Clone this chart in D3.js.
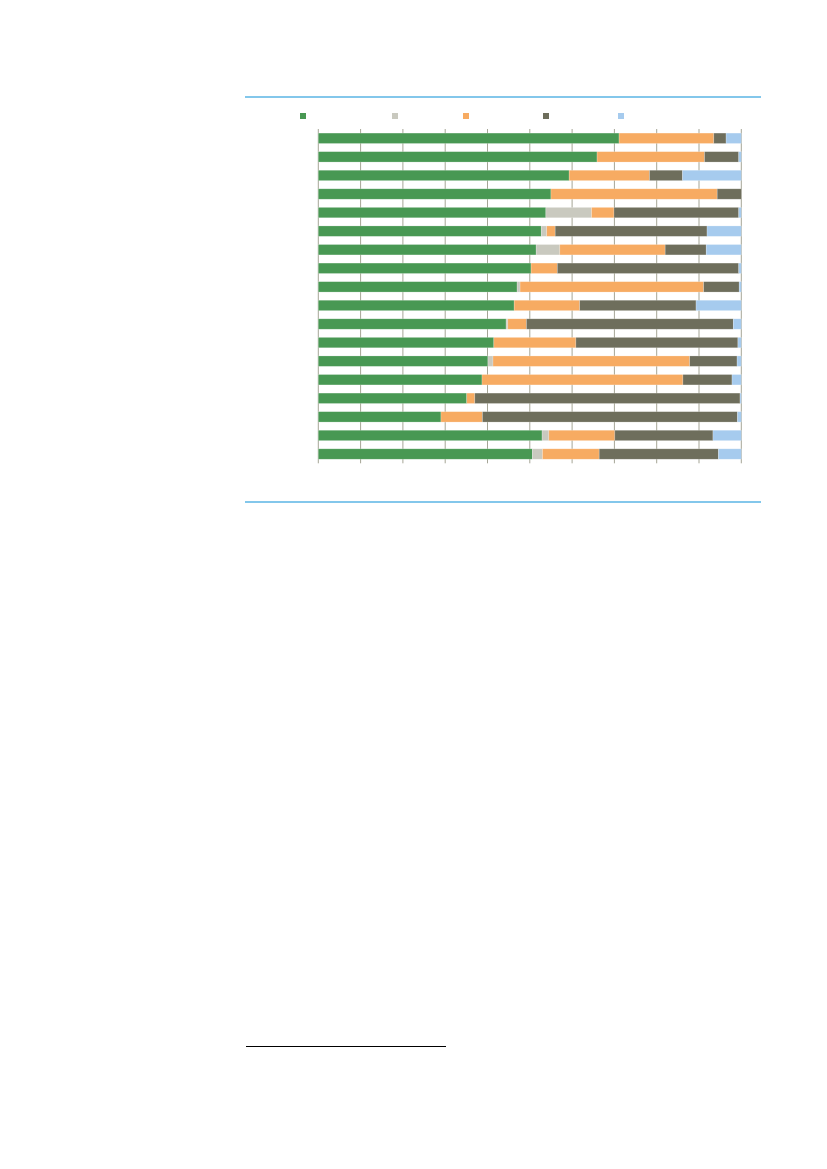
<!DOCTYPE html>
<html>
<head>
<meta charset="utf-8">
<script src="https://cdn.jsdelivr.net/npm/d3@7"></script>
<style>
  html, body { margin: 0; padding: 0; background: #fff; }
  svg { display: block; }
</style>
</head>
<body>
<svg id="chart"></svg>
<script>
// Data: one row per bar, shares in percent
const rows = d3.range(18);
const seriesKeys = ["s1", "s2", "s3", "s4", "s5"];
const s1 = [71.1, 65.9, 59.3, 55.0, 53.8, 52.7, 51.5, 50.3, 47.0, 46.3, 44.4, 41.5, 40.1, 38.7, 35.1, 29.0, 52.9, 50.6];
const s2 = [0, 0, 0, 0, 10.8, 1.3, 5.6, 0, 0.7, 0, 0.4, 0, 1.2, 0, 0, 0, 1.6, 2.4];
const s3 = [22.4, 25.4, 19.0, 39.3, 5.3, 2.0, 24.9, 6.2, 43.4, 15.5, 4.4, 19.4, 46.5, 47.5, 1.9, 9.8, 15.6, 13.4];
const s4 = [2.9, 8.1, 7.8, 5.7, 29.5, 35.9, 9.7, 42.9, 8.4, 27.5, 48.9, 38.3, 11.2, 11.6, 62.7, 60.3, 23.2, 28.2];
const s5 = [3.6, 0.6, 13.9, 0, 0.6, 8.1, 8.3, 0.6, 0.5, 10.7, 1.9, 0.8, 1.0, 2.2, 0.3, 0.9, 6.7, 5.4];
const xTicks = d3.range(0, 101, 10);

const colors = ["#489853", "#c9c9bf", "#f7ab62", "#6e6e5c", "#a6cbee"];

// table for d3.stack
const table = rows.map(i => ({
  row: i, s1: s1[i], s2: s2[i], s3: s3[i], s4: s4[i], s5: s5[i]
}));

// Layout
const W = 827, H = 1169;
const plot = { left: 318.3, right: 741.3, top: 129, bottom: 463.3 };
const legendX = [300, 392, 463, 543, 618];
const legendY = 113, legendSize = 6;

const svg = d3.select("#chart").attr("width", W).attr("height", H);

// blue frame rules above and below the chart
[97, 502].forEach(y => {
  svg.append("line")
    .attr("x1", 245).attr("x2", 761)
    .attr("y1", y).attr("y2", y)
    .attr("stroke", "#5ab4e5").attr("stroke-width", 1.5);
});

// footnote rule
svg.append("line")
  .attr("x1", 246).attr("x2", 446)
  .attr("y1", 1046.5).attr("y2", 1046.5)
  .attr("stroke", "#000").attr("stroke-width", 1.2);

const x = d3.scaleLinear().domain([0, 100]).range([plot.left, plot.right]);
const y = d3.scaleBand().domain(rows).range([plot.top, plot.bottom]).paddingInner(0.44).paddingOuter(0.22);

// vertical gridlines
svg.append("g")
  .selectAll("line")
  .data(xTicks)
  .join("line")
  .attr("x1", d => x(d)).attr("x2", d => x(d))
  .attr("y1", plot.top).attr("y2", plot.bottom)
  .attr("stroke", "#a5a596").attr("stroke-width", 1);

// stacked bars
const stacked = d3.stack().keys(seriesKeys)(table);

svg.append("g")
  .selectAll("g")
  .data(stacked)
  .join("g")
  .attr("fill", (d, i) => colors[i])
  .selectAll("rect")
  .data(d => d)
  .join("rect")
  .attr("x", d => x(d[0]))
  .attr("y", d => y(d.data.row))
  .attr("width", d => Math.max(0, x(d[1]) - x(d[0])))
  .attr("height", y.bandwidth())
  .attr("stroke", "#ffffff")
  .attr("stroke-opacity", 0.35)
  .attr("stroke-width", 0.6);

// legend swatches (no labels in the source)
svg.append("g")
  .selectAll("rect")
  .data(seriesKeys)
  .join("rect")
  .attr("x", (d, i) => legendX[i])
  .attr("y", legendY)
  .attr("width", legendSize)
  .attr("height", legendSize)
  .attr("fill", (d, i) => colors[i]);
</script>
</body>
</html>
